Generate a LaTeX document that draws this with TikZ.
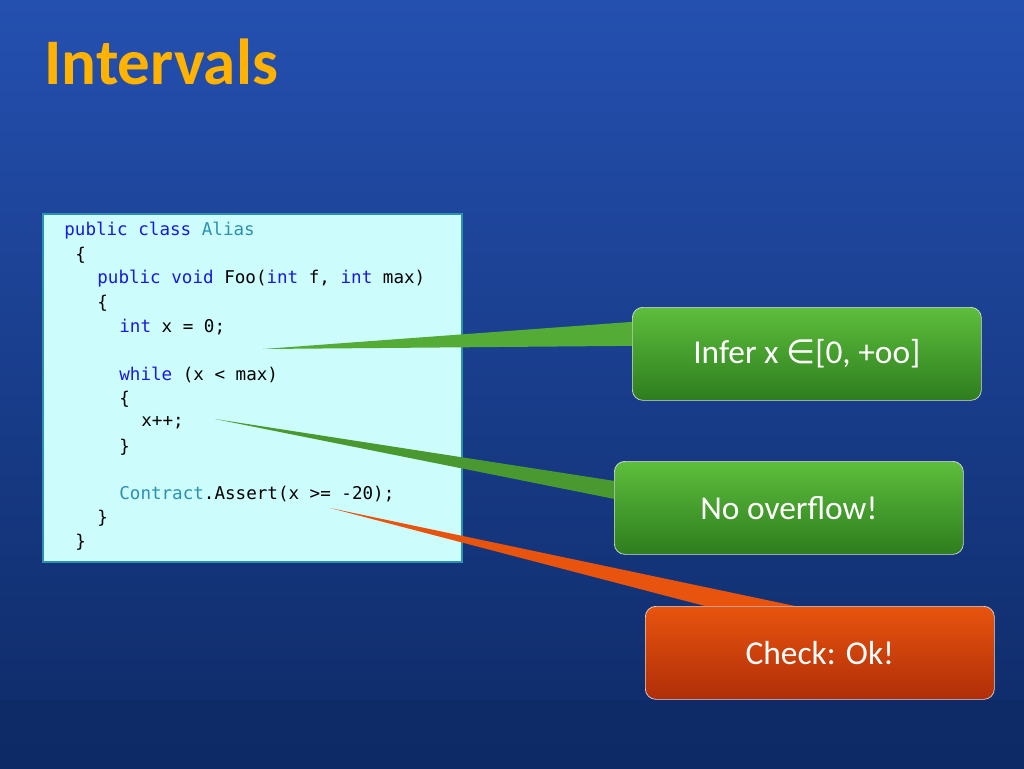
\documentclass[tikz,border=0pt]{standalone}
\usepackage{fontspec}
\setmainfont{Carlito}
\setmonofont{DejaVu Sans Mono}
\newfontfamily\symfont{DejaVu Sans}
\usetikzlibrary{positioning}
\definecolor{bgdark}{HTML}{0E2A66}
\definecolor{bglight}{HTML}{2450B0}
\definecolor{codebg}{HTML}{CCFCFC}
\definecolor{kw}{HTML}{1A1AE0}
\definecolor{ty}{HTML}{2B91AF}
\definecolor{gtop}{HTML}{5DBE3C}
\definecolor{gbot}{HTML}{2E7D1E}
\definecolor{rtop}{HTML}{E8540E}
\definecolor{rbot}{HTML}{B02E08}
\newcommand{\kw}[1]{\textcolor{kw}{#1}}
\newcommand{\ty}[1]{\textcolor{ty}{#1}}
\begin{document}
\begin{tikzpicture}[x=0.02cm,y=-0.02cm,
        callout/.style={draw=white!70!gray,rounded corners=6pt,minimum width=349*0.02cm,
            minimum height=93*0.02cm,font=\fontsize{19}{22}\selectfont,text=white},
        greenbox/.style={callout,top color=gtop,bottom color=gbot},
        redbox/.style={callout,top color=rtop,bottom color=rbot},
        codeline/.style={anchor=west,inner sep=0pt,font=\ttfamily\fontsize{10}{12}\selectfont},
        ]
        % background
        \fill[top color=bglight,bottom color=bgdark] (0,0) rectangle (1024,768);
        \fill[bgdark,opacity=0.5] (0,700) rectangle (1024,768);
        \node[anchor=west,inner sep=0pt,font=\bfseries\fontsize{37}{42}\selectfont,text=orange!60!yellow] (title) at (44,62) {Intervals};
        % code box
        \node[draw=ty,fill=codebg,line width=1pt,minimum width=419*0.02cm,minimum height=348*0.02cm,anchor=north west] (code) at (42,213) {};
        \node[codeline] (l1) at (64,231) {\kw{public} \kw{class} \ty{Alias}};
        \node[codeline] (l2) at (75,255) {\{};
        \node[codeline] (l3) at (97,279) {\kw{public} \kw{void} Foo(\kw{int} f, \kw{int} max)};
        \node[codeline] (l4) at (97,303) {\{};
        \node[codeline] (l5) at (119,327) {\kw{int} x = 0;};
        \node[codeline] (l6) at (119,375) {\kw{while} (x < max)};
        \node[codeline] (l7) at (119,399) {\{};
        \node[codeline] (l8) at (141,423) {x++;};
        \node[codeline] (l9) at (119,447) {\}};
        \node[codeline] (l10) at (119,494) {\ty{Contract}.Assert(x >= -20);};
        \node[codeline] (l11) at (97,518) {\}};
        \node[codeline] (l12) at (75,542) {\}};
        % pointer tips
        \coordinate (tipinfer) at (263,349);
        \coordinate (tipover) at (215,419);
        \coordinate (tipcheck) at (330,508);
        % callouts
        \node[greenbox,anchor=north west] (infer) at (632,307) {Infer x {\symfont∈}[0, +oo]};
        \node[greenbox,anchor=north west] (overflow) at (614,461) {No overflow!};
        \node[redbox,anchor=north west] (check) at (645,606) {Check: Ok!};
        \fill[gtop!90!black] (tipinfer) -- ([yshift=0.16cm]infer.west) -- ([yshift=0.64cm]infer.west) -- cycle;
        \fill[gtop!80!black] (tipover) -- ([yshift=0.18cm]overflow.west) -- ([yshift=0.54cm]overflow.west) -- cycle;
        \fill[rtop] (tipcheck) -- ([xshift=1.2cm]check.north west) -- ([xshift=3cm]check.north west) -- cycle;
\end{tikzpicture}
\end{document}
